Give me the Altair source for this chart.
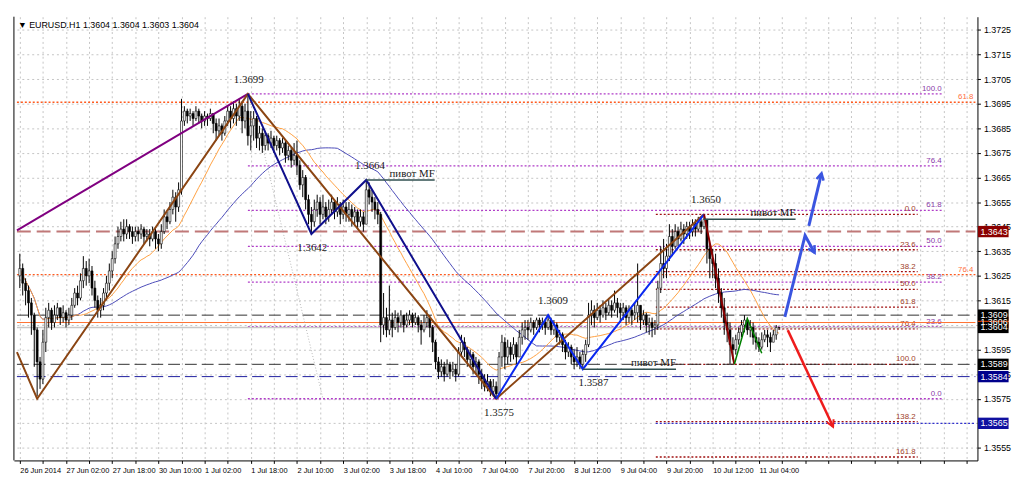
import json
import altair as alt
import pandas as pd

# ---------------- data (prices in pips: 3604 -> 1.3604) ----------------
FIRST_OPEN = 3625
CLOSES = [
    3628, 3622, 3619, 3614, 3609, 3603, 3590, 3583,
    3598, 3608, 3611, 3606, 3609, 3612, 3608, 3610,
    3607, 3609, 3613, 3618, 3616, 3623, 3628, 3625,
    3627, 3620, 3615, 3611, 3613, 3618, 3622, 3627,
    3632, 3638, 3641, 3644, 3642, 3645, 3643, 3641,
    3643, 3642, 3644, 3641, 3642, 3640, 3643, 3640,
    3638, 3643, 3649, 3647, 3652, 3657, 3653, 3660,
    3688, 3692, 3690, 3691, 3689, 3692, 3690, 3688,
    3690, 3689, 3691, 3687, 3684, 3686, 3683, 3688,
    3692, 3689, 3693, 3690, 3694, 3688, 3692, 3682,
    3686, 3689, 3681, 3683, 3678, 3682, 3679, 3681,
    3678, 3680, 3677, 3679, 3674, 3676, 3672, 3674,
    3670, 3662, 3665, 3656, 3650, 3647, 3652, 3655,
    3650, 3653, 3649, 3652, 3655, 3651, 3654, 3650,
    3653, 3650, 3652, 3649, 3651, 3647, 3649, 3646,
    3660, 3657, 3655, 3652, 3650, 3605, 3608, 3603,
    3607, 3604, 3608, 3606, 3609, 3605, 3607, 3609,
    3606, 3608, 3605, 3603, 3606, 3608, 3604, 3598,
    3590, 3586, 3588, 3585, 3589, 3586, 3587, 3585,
    3594, 3598, 3595, 3591, 3593, 3588, 3590, 3585,
    3583, 3580, 3582, 3578, 3580, 3577, 3592, 3598,
    3592, 3596, 3593, 3597, 3592, 3600, 3603, 3604,
    3603, 3606, 3604, 3607, 3605, 3606, 3604, 3607,
    3603, 3605, 3600, 3601, 3597, 3594, 3596, 3592,
    3590, 3592, 3589, 3593, 3597, 3609, 3611, 3608,
    3611, 3609, 3612, 3610, 3613, 3611, 3614, 3612,
    3610, 3612, 3608, 3611, 3609, 3610, 3613, 3607,
    3609, 3605, 3606, 3604, 3605, 3620, 3630, 3628,
    3633, 3641, 3637, 3643, 3640, 3644, 3642, 3645,
    3643, 3646, 3644, 3647, 3645, 3648, 3636, 3632,
    3630, 3624, 3618, 3612, 3606, 3603, 3597, 3595,
    3599, 3602, 3605, 3607, 3603, 3604, 3600, 3598,
    3596, 3599, 3601, 3600, 3598, 3601, 3604, 3604,
]
HIGHS = [
    3634, 3630, 3624, 3621, 3616, 3610, 3604, 3592,
    3603, 3612, 3614, 3612, 3613, 3614, 3612, 3613,
    3611, 3612, 3616, 3620, 3621, 3626, 3633, 3631,
    3632, 3629, 3623, 3617, 3616, 3620, 3625, 3630,
    3635, 3641, 3645, 3647, 3648, 3648, 3646, 3645,
    3645, 3645, 3646, 3645, 3644, 3644, 3645, 3644,
    3642, 3646, 3652, 3651, 3655, 3660, 3659, 3663,
    3697, 3694, 3693, 3693, 3692, 3694, 3693, 3691,
    3692, 3691, 3693, 3691, 3689, 3689, 3687, 3690,
    3694, 3694, 3696, 3695, 3697, 3696, 3695, 3699,
    3692, 3692, 3690, 3686, 3685, 3684, 3683, 3684,
    3682, 3682, 3681, 3681, 3680, 3678, 3677, 3679,
    3680, 3672, 3668, 3666, 3658, 3653, 3656, 3658,
    3657, 3658, 3655, 3656, 3658, 3656, 3657, 3655,
    3656, 3655, 3655, 3654, 3653, 3652, 3652, 3651,
    3664, 3663, 3660, 3657, 3655, 3651, 3618, 3612,
    3621, 3610, 3611, 3610, 3611, 3609, 3610, 3611,
    3610, 3610, 3609, 3607, 3609, 3611, 3609, 3605,
    3599, 3592, 3591, 3590, 3591, 3590, 3590, 3589,
    3596, 3601, 3600, 3596, 3595, 3594, 3592, 3591,
    3587, 3585, 3585, 3583, 3583, 3582, 3594, 3601,
    3600, 3599, 3598, 3600, 3598, 3603, 3606, 3607,
    3607, 3608, 3607, 3608, 3608, 3608, 3607, 3609,
    3608, 3607, 3606, 3603, 3602, 3599, 3598, 3597,
    3595, 3596, 3594, 3595, 3599, 3614, 3615, 3613,
    3614, 3613, 3615, 3614, 3616, 3615, 3619, 3616,
    3614, 3614, 3613, 3613, 3612, 3614, 3630, 3611,
    3611, 3610, 3608, 3608, 3607, 3623, 3637, 3640,
    3638, 3646, 3644, 3646, 3645, 3647, 3646, 3647,
    3647, 3648, 3648, 3649, 3648, 3650, 3648, 3638,
    3636, 3634, 3628, 3620, 3616, 3610, 3606, 3600,
    3601, 3604, 3607, 3609, 3608, 3607, 3606, 3602,
    3600, 3602, 3603, 3603, 3602, 3603, 3605, 3604,
]
LOWS = [
    3620, 3617, 3613, 3608, 3601, 3588, 3576, 3579,
    3581, 3594, 3604, 3603, 3604, 3607, 3605, 3606,
    3604, 3605, 3607, 3612, 3613, 3615, 3620, 3621,
    3622, 3617, 3612, 3608, 3608, 3611, 3615, 3619,
    3624, 3630, 3636, 3639, 3639, 3640, 3640, 3638,
    3639, 3639, 3640, 3638, 3639, 3637, 3639, 3636,
    3635, 3636, 3642, 3644, 3646, 3650, 3647, 3651,
    3658, 3686, 3687, 3688, 3686, 3688, 3687, 3685,
    3686, 3686, 3688, 3683, 3680, 3682, 3680, 3682,
    3686, 3685, 3687, 3686, 3688, 3683, 3685, 3678,
    3676, 3680, 3677, 3676, 3675, 3676, 3676, 3677,
    3675, 3676, 3674, 3675, 3671, 3672, 3669, 3670,
    3666, 3660, 3657, 3652, 3646, 3642, 3645, 3649,
    3646, 3648, 3646, 3647, 3650, 3648, 3649, 3646,
    3648, 3647, 3647, 3645, 3646, 3644, 3645, 3643,
    3646, 3654, 3651, 3648, 3646, 3598, 3601, 3600,
    3601, 3600, 3603, 3602, 3604, 3602, 3604, 3605,
    3604, 3605, 3602, 3597, 3602, 3604, 3600, 3594,
    3587, 3583, 3584, 3582, 3584, 3583, 3584, 3582,
    3584, 3592, 3592, 3588, 3588, 3585, 3585, 3581,
    3579, 3578, 3578, 3576, 3576, 3575, 3577, 3588,
    3587, 3589, 3590, 3591, 3589, 3592, 3597, 3599,
    3599, 3602, 3601, 3603, 3602, 3603, 3601, 3603,
    3601, 3601, 3598, 3597, 3594, 3591, 3592, 3589,
    3587, 3588, 3587, 3587, 3590, 3596, 3605, 3604,
    3607, 3606, 3608, 3607, 3609, 3608, 3610, 3608,
    3606, 3607, 3605, 3606, 3605, 3607, 3606, 3603,
    3605, 3602, 3601, 3600, 3601, 3603, 3618, 3624,
    3624, 3631, 3633, 3636, 3637, 3639, 3638, 3640,
    3640, 3641, 3641, 3643, 3642, 3644, 3630, 3624,
    3624, 3620, 3614, 3608, 3601, 3598, 3589, 3591,
    3593, 3597, 3600, 3602, 3601, 3600, 3597, 3595,
    3594, 3595, 3598, 3596, 3594, 3598, 3599, 3603,
]

X_LABELS = ["26 Jun 2014", "27 Jun 02:00", "27 Jun 18:00", "30 Jun 10:00",
            "1 Jul 02:00", "1 Jul 18:00", "2 Jul 10:00", "3 Jul 02:00",
            "3 Jul 18:00", "4 Jul 10:00", "7 Jul 04:00", "7 Jul 20:00",
            "8 Jul 12:00", "9 Jul 04:00", "9 Jul 20:00", "10 Jul 12:00",
            "11 Jul 04:00"]
Y_TICKS = [1.3555, 1.3565, 1.3575, 1.3585, 1.3595, 1.3605, 1.3615, 1.3625,
           1.3635, 1.3645, 1.3655, 1.3665, 1.3675, 1.3685, 1.3695, 1.3705,
           1.3715, 1.3725]
Y_HIDDEN = ["1.3605", "1.3565"]  # tick labels covered by the price boxes
TITLE = "\u25bc EURUSD.H1  1.3604 1.3604 1.3603 1.3604"

# zigzag pivots (bar index, pips)
ZZ_PURPLE_T, ZZ_PURPLE_P = [-1, 79], [3643.5, 3699]
ZZ_BROWN_T, ZZ_BROWN_P = [-1, 6, 79, 165, 237], [3594, 3575, 3699, 3575, 3650]
ZZ_NAVY_T, ZZ_NAVY_P = [79, 101, 120, 165], [3699, 3642, 3664, 3575]
ZZ_BLUE_T, ZZ_BLUE_P = [165, 183, 195, 237], [3575, 3609, 3587, 3650]
ZZ_DRED_T, ZZ_DRED_P = [237, 247.5], [3650, 3589]
ZZ_GREEN_T, ZZ_GREEN_P = [247.5, 252, 257], [3589, 3607.5, 3593.5]
FAINT_T, FAINT_P = [84, 105], [3678, 3575]

# projection arrows
ARROW_UP1_T, ARROW_UP1_P = [265, 272, 275.3], [3608.3, 3641.4, 3634.4]
ARROW_UP2_T, ARROW_UP2_P = [273.3, 277.7], [3645.3, 3666.7]
ARROW_DN_T, ARROW_DN_P = [266, 281.7], [3602.9, 3563.6]

# pivot MF lines
PIVOT_T0 = [120, 195, 237]
PIVOT_T1 = [143.7, 227.3, 268.7]
PIVOT_P = [3664, 3587, 3648]

# price annotations
TOP_LBL_T, TOP_LBL_P = [79.3, 121.3, 184.7, 237.7], [3699, 3664, 3609, 3650]
TOP_LBL_S = ["1.3699", "1.3664", "1.3609", "1.3650"]
BOT_LBL_T, BOT_LBL_P = [101.3, 198.7, 166], [3642, 3587, 3575]
BOT_LBL_S = ["1.3642", "1.3587", "1.3575"]

# fibonacci sets
FIB_PURPLE_LVL = ["100.0", "76.4", "61.8", "50.0", "38.2", "23.6", "0.0"]
FIB_PURPLE_P = [3699, 3669.7, 3651.6, 3637.0, 3622.4, 3604.3, 3575.0]
FIB_PURPLE_T = [79, 320]
FIB_RED_LVL = ["0.0", "23.6", "38.2", "50.0", "61.8", "76.4", "100.0", "138.2", "161.8"]
FIB_RED_P = [3650, 3635.6, 3626.7, 3619.5, 3612.3, 3603.4, 3589, 3565.7, 3551.3]
FIB_RED_T = [220.3, 311]
FIB_ORANGE_LVL = ["61.8", "76.4"]
FIB_ORANGE_P = [3695.6, 3625.5]
FIB_ORANGE_T = [-1, 331]

# horizontal levels
LVL_ROSE = [3643]
LVL_BLACK = [3609, 3589]
LVL_NAVY = [3584]
LVL_ORANGE = [3606]
LVL_BID = [3604]
LVL_BLUEDOT = [3565]
LVL_BLUEDOT_T = [220.3, 331]

# axis price boxes
BOX_P = [3606, 3643, 3609, 3604, 3589, 3584, 3565]
BOX_C = ["#ff4500", "#8b0000", "#000000", "#000000", "#000000", "#00008b", "#1010a0"]

# ---------------- chart ----------------
W, H = 975, 449


def px(v):
    return 1 + v / 10000.0


label_js = json.dumps(X_LABELS)
hidden_js = json.dumps(Y_HIDDEN)
XAX = alt.Axis(values=list(range(0, 329, 8)),
               labelExpr=f"(datum.value % 16 == 0 && datum.value / 16 < {len(X_LABELS)}) ? {label_js}[datum.value / 16] : ''",
               grid=True, gridColor="#c4c4c4", gridDash=[2, 3], gridWidth=1,
               domainColor="black", tickColor="black", tickSize=3,
               labelFont="Liberation Sans", labelFontSize=7.5, labelColor="black",
               labelAlign="left", labelPadding=3, labelOverlap=False, labelFlush=False,
               title=None, zindex=0)
YAX = alt.Axis(orient="right", values=Y_TICKS, format=".4f",
               labelExpr=f"indexof({hidden_js}, datum.label) >= 0 ? '' : datum.label",
               grid=True, gridColor="#c4c4c4", gridDash=[2, 3], gridWidth=1,
               domainColor="black", tickColor="black", tickSize=3,
               labelFont="Liberation Sans", labelFontSize=9, labelColor="black",
               labelPadding=3, labelOverlap=False, labelFlush=False, title=None, zindex=0)
XS = alt.Scale(domain=[-0.33, 330], nice=False, zero=False)
YS = alt.Scale(domain=[1.35499, 1.37304], nice=False, zero=False)


def X(f):
    return alt.X(f, type="quantitative", scale=XS, axis=XAX)


def Y(f):
    return alt.Y(f, type="quantitative", scale=YS, axis=YAX)


n = len(CLOSES)
opens = [FIRST_OPEN] + CLOSES[:-1]
candles = pd.DataFrame({
    "t": list(range(n)),
    "open": [px(v) for v in opens],
    "close": [px(v) for v in CLOSES],
    "high": [px(max(h, o, c)) for h, o, c in zip(HIGHS, opens, CLOSES)],
    "low": [px(min(l, o, c)) for l, o, c in zip(LOWS, opens, CLOSES)],
})

layers = []


def polyline(ts, ps, color, width, dash=None, opacity=1.0):
    df = pd.DataFrame({"t": ts, "p": [px(v) for v in ps], "o": list(range(len(ts)))})
    kw = dict(color=color, strokeWidth=width, clip=True, opacity=opacity)
    if dash:
        kw["strokeDash"] = dash
    return alt.Chart(df).mark_line(**kw).encode(x=X("t"), y=Y("p"), order="o:Q")


def hrules(ps, t0, t1, color, width, dash=None):
    df = pd.DataFrame({"p": [px(v) for v in ps], "t0": [t0] * len(ps), "t1": [t1] * len(ps)})
    kw = dict(color=color, strokeWidth=width, clip=True)
    if dash:
        kw["strokeDash"] = dash
    return alt.Chart(df).mark_rule(**kw).encode(x=X("t0"), x2="t1", y=Y("p"))


def fib(levels, ps, t0, t1, line_color, text_color, dash):
    df = pd.DataFrame({"p": [px(v) for v in ps], "lab": levels,
                       "t0": [t0] * len(ps), "t1": [t1] * len(ps)})
    r = alt.Chart(df).mark_rule(color=line_color, strokeWidth=1.3, strokeDash=dash, clip=True).encode(
        x=X("t0"), x2="t1", y=Y("p"))
    tx = alt.Chart(df).mark_text(align="right", baseline="bottom", dy=-1, dx=-2,
                                 font="Liberation Sans", fontSize=8, color=text_color).encode(
        x=X("t1"), y=Y("p"), text="lab:N")
    return [r, tx]


# fib & horizontal levels (behind candles)
layers += fib(FIB_ORANGE_LVL, FIB_ORANGE_P, FIB_ORANGE_T[0], FIB_ORANGE_T[1], "#ff5a1e", "#ff7040", [2, 2])
layers += fib(FIB_PURPLE_LVL, FIB_PURPLE_P, FIB_PURPLE_T[0], FIB_PURPLE_T[1], "#b03cc8", "#8a3aa8", [2, 2])
layers += fib(FIB_RED_LVL, FIB_RED_P, FIB_RED_T[0], FIB_RED_T[1], "#a01010", "#a0402a", [2, 2])
layers.append(hrules(LVL_ROSE, -1, 331, "#c07878", 2, [14, 6]))
layers.append(hrules(LVL_BLACK, -1, 331, "#303030", 1, [12, 5]))
layers.append(hrules(LVL_NAVY, -1, 331, "#1e1ea0", 1, [12, 5]))
layers.append(hrules(LVL_BID, -1, 331, "#c8c8c8", 1.5))
layers.append(hrules(LVL_ORANGE, -1, 331, "#ff7030", 1))
layers.append(hrules(LVL_BLUEDOT, LVL_BLUEDOT_T[0], LVL_BLUEDOT_T[1], "#3030d0", 1.3, [2, 2]))
layers.append(polyline(FAINT_T, FAINT_P, "#b8b8b8", 1, [1, 2]))

# moving averages
layers.append(alt.Chart(candles).transform_window(
    ma="mean(close)", frame=[-54, 0], sort=[alt.SortField("t")]
).mark_line(color="#4a4ab8", strokeWidth=1).encode(x=X("t"), y=Y("ma")))
layers.append(alt.Chart(candles).transform_window(
    ma="mean(close)", frame=[-20, 0], sort=[alt.SortField("t")]
).mark_line(color="#ffa040", strokeWidth=1).encode(x=X("t"), y=Y("ma")))

# candles
layers.append(alt.Chart(candles).mark_rule(color="black", strokeWidth=1).encode(
    x=X("t"), y=Y("low"), y2="high"))
layers.append(alt.Chart(candles).mark_bar(size=2, stroke="black", strokeWidth=0.6).encode(
    x=X("t"), y=Y("open"), y2="close",
    color=alt.condition("datum.close >= datum.open", alt.value("white"), alt.value("black"))))

# zigzags
layers.append(polyline(ZZ_PURPLE_T, ZZ_PURPLE_P, "#800080", 2))
layers.append(polyline(ZZ_BROWN_T, ZZ_BROWN_P, "#8b4513", 2))
layers.append(polyline(ZZ_NAVY_T, ZZ_NAVY_P, "#10108c", 2))
layers.append(polyline(ZZ_BLUE_T, ZZ_BLUE_P, "#0a28f0", 2))
layers.append(polyline(ZZ_DRED_T, ZZ_DRED_P, "#8b0000", 2))
layers.append(polyline(ZZ_GREEN_T, ZZ_GREEN_P, "#008000", 1.5))

# pivot MF lines + labels
piv = pd.DataFrame({"t0": PIVOT_T0, "t1": PIVOT_T1, "p": [px(v) for v in PIVOT_P],
                    "s": ["пивот MF"] * len(PIVOT_P)})
layers.append(alt.Chart(piv).mark_rule(color="#2f4f4f", strokeWidth=1.5).encode(
    x=X("t0"), x2="t1", y=Y("p")))
layers.append(alt.Chart(piv).mark_text(align="right", baseline="bottom", dy=-1,
                                       font="Liberation Serif", fontSize=11, color="#202020").encode(
    x=X("t1"), y=Y("p"), text="s:N"))

# price annotations
top = pd.DataFrame({"t": TOP_LBL_T, "p": [px(v) for v in TOP_LBL_P], "s": TOP_LBL_S})
bot = pd.DataFrame({"t": BOT_LBL_T, "p": [px(v) for v in BOT_LBL_P], "s": BOT_LBL_S})
layers.append(alt.Chart(top).mark_text(baseline="middle", dy=-14, font="Liberation Serif",
                                       fontSize=11, color="#202020").encode(x=X("t"), y=Y("p"), text="s:N"))
layers.append(alt.Chart(bot).mark_text(baseline="middle", dy=14, font="Liberation Serif",
                                       fontSize=11, color="#202020").encode(x=X("t"), y=Y("p"), text="s:N"))

# projection arrows
layers.append(polyline(ARROW_UP1_T, ARROW_UP1_P, "#3a55e0", 3))
layers.append(polyline(ARROW_UP2_T, ARROW_UP2_P, "#3a55e0", 3))
layers.append(polyline(ARROW_DN_T, ARROW_DN_P, "#ee1c1c", 2.5))
HEAD = "M-0.6,1.1L0,0L0.6,1.1"
for ts, ps, ang, col, sw in [(ARROW_UP1_T, ARROW_UP1_P, 151, "#3a55e0", 2.5),
                             (ARROW_UP2_T, ARROW_UP2_P, 13, "#3a55e0", 2.5),
                             (ARROW_DN_T, ARROW_DN_P, 155, "#ee1c1c", 2)]:
    hd = pd.DataFrame({"t": [ts[-1]], "p": [px(ps[-1])]})
    layers.append(alt.Chart(hd).mark_point(shape=HEAD, size=150, filled=False, stroke=col,
                                           strokeWidth=sw, angle=ang, opacity=1).encode(
        x=X("t"), y=Y("p")))

# axis price boxes
boxes = pd.DataFrame({"p": [px(v) for v in BOX_P], "c": BOX_C,
                      "s": [f"{px(v):.4f}" for v in BOX_P]})
BOX = "M-1,-0.37H1V0.37H-1Z"
layers.append(alt.Chart(boxes).mark_point(shape=BOX, size=961, filled=True, opacity=1,
                                          strokeWidth=0).encode(
    x=alt.value(W + 16), y=Y("p"), color=alt.Color("c:N", scale=None)))
layers.append(alt.Chart(boxes).mark_text(align="left", baseline="middle", color="white",
                                         font="Liberation Sans", fontSize=9).encode(
    x=alt.value(W + 3), y=Y("p"), text="s:N"))

# left frame + title
one = pd.DataFrame({"s": [TITLE]})
layers.append(alt.Chart(one).mark_rule(color="black", strokeWidth=1).encode(
    x=alt.value(0), y=alt.value(0), y2=alt.value(H)))
layers.append(alt.Chart(one).mark_text(align="left", baseline="middle", font="Liberation Sans",
                                       fontSize=9, color="black").encode(
    x=alt.value(4), y=alt.value(8), text="s:N"))

chart = alt.layer(*layers).properties(width=W, height=H, background="white").configure_view(
    strokeWidth=0)

chart.save("out.html", embed_options={"renderer": "svg", "actions": False})
